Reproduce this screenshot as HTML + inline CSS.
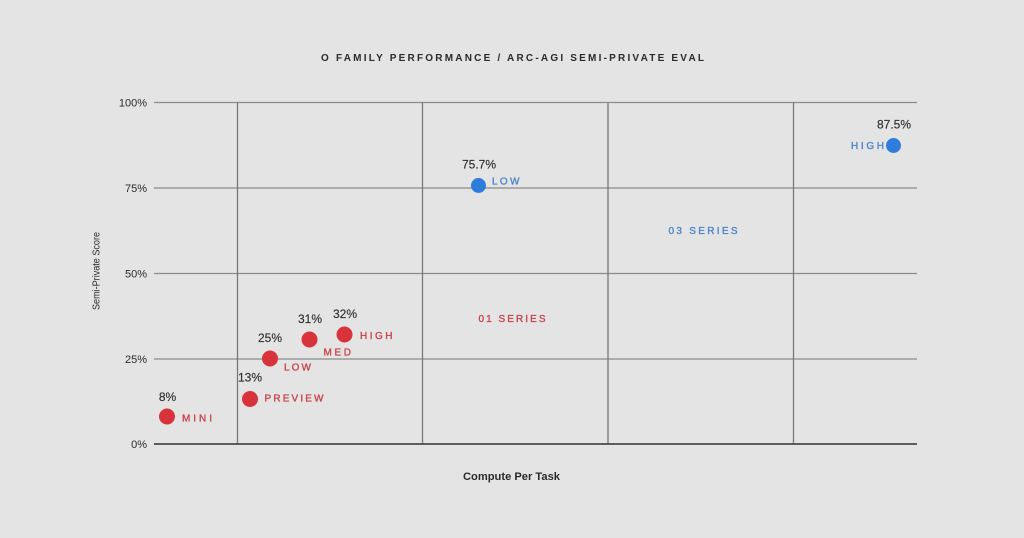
<!DOCTYPE html>
<html>
<head>
<meta charset="utf-8">
<style>
html,body{margin:0;padding:0;background:#e4e4e4;}
svg{display:block;}
text{font-family:"Liberation Sans",Arial,sans-serif;}
</style>
</head>
<body>
<svg width="1024" height="538" viewBox="0 0 1024 538" xmlns="http://www.w3.org/2000/svg">
<rect x="0" y="0" width="1024" height="538" fill="#e4e4e4"/>

<!-- title -->
<text x="321" y="61" font-size="10" font-weight="bold" fill="#2a2a2a" textLength="383" lengthAdjust="spacing">O FAMILY PERFORMANCE / ARC-AGI SEMI-PRIVATE EVAL</text>

<!-- horizontal gridlines -->
<g stroke="#8a8a8a" stroke-width="1.3">
<line x1="154" y1="102.5" x2="917" y2="102.5"/>
<line x1="154" y1="188" x2="917" y2="188"/>
<line x1="154" y1="273.5" x2="917" y2="273.5"/>
<line x1="154" y1="359" x2="917" y2="359"/>
</g>
<!-- vertical gridlines -->
<g stroke="#777" stroke-width="1.3">
<line x1="237.5" y1="102.5" x2="237.5" y2="444"/>
<line x1="422.5" y1="102.5" x2="422.5" y2="444"/>
<line x1="608" y1="102.5" x2="608" y2="444"/>
<line x1="793.5" y1="102.5" x2="793.5" y2="444"/>
</g>
<line x1="154" y1="444" x2="917" y2="444" stroke="#4a4a4a" stroke-width="1.8"/>

<!-- y tick labels -->
<g font-size="11" fill="#2a2a2a" text-anchor="end">
<text x="147" y="106.5">100%</text>
<text x="147" y="192">75%</text>
<text x="147" y="277.5">50%</text>
<text x="147" y="363">25%</text>
<text x="147" y="448">0%</text>
</g>

<!-- axis titles -->
<text x="511.5" y="480" font-size="11" font-weight="bold" fill="#2a2a2a" text-anchor="middle" textLength="97" lengthAdjust="spacingAndGlyphs">Compute Per Task</text>
<text transform="translate(99.5,271) rotate(-90)" font-size="10.5" fill="#2a2a2a" text-anchor="middle" textLength="78" lengthAdjust="spacingAndGlyphs">Semi-Private Score</text>

<!-- series labels -->
<text x="478.5" y="322" font-size="10" fill="#c8444c" stroke="#c8444c" stroke-width="0.35" textLength="67" lengthAdjust="spacing">01 SERIES</text>
<text x="668.5" y="234" font-size="10" fill="#4a86c8" stroke="#4a86c8" stroke-width="0.35" textLength="69" lengthAdjust="spacing">03 SERIES</text>

<!-- red dots -->
<g fill="#d8333b">
<circle cx="167" cy="416.5" r="8"/>
<circle cx="250" cy="399" r="8"/>
<circle cx="270" cy="358.5" r="8"/>
<circle cx="309.5" cy="339.5" r="8"/>
<circle cx="344.5" cy="334.5" r="8"/>
</g>
<!-- blue dots -->
<g fill="#2f7ddb">
<circle cx="478.5" cy="185.5" r="7.5"/>
<circle cx="893.5" cy="145.5" r="7.5"/>
</g>

<!-- value labels -->
<g font-size="12" fill="#2e2e2e" stroke="#2e2e2e" stroke-width="0.15" text-anchor="middle">
<text x="167.5" y="401">8%</text>
<text x="250" y="381.5">13%</text>
<text x="270" y="342">25%</text>
<text x="310" y="323">31%</text>
<text x="345" y="318">32%</text>
<text x="479" y="168.5">75.7%</text>
<text x="894" y="128.5">87.5%</text>
</g>

<!-- red category labels -->
<g font-size="10" fill="#c8444c" stroke="#c8444c" stroke-width="0.35">
<text x="182" y="421.5" textLength="30" lengthAdjust="spacing">MINI</text>
<text x="264.5" y="401.5" textLength="59" lengthAdjust="spacing">PREVIEW</text>
<text x="284" y="370.5" textLength="27" lengthAdjust="spacing">LOW</text>
<text x="323.5" y="355.5" textLength="27.5" lengthAdjust="spacing">MED</text>
<text x="360" y="339" textLength="32.5" lengthAdjust="spacing">HIGH</text>
</g>
<!-- blue category labels -->
<g font-size="10" fill="#4a86c8" stroke="#4a86c8" stroke-width="0.35">
<text x="492" y="184.5" textLength="27.5" lengthAdjust="spacing">LOW</text>
<text x="851" y="149" textLength="33" lengthAdjust="spacing">HIGH</text>
</g>
</svg>
</body>
</html>
